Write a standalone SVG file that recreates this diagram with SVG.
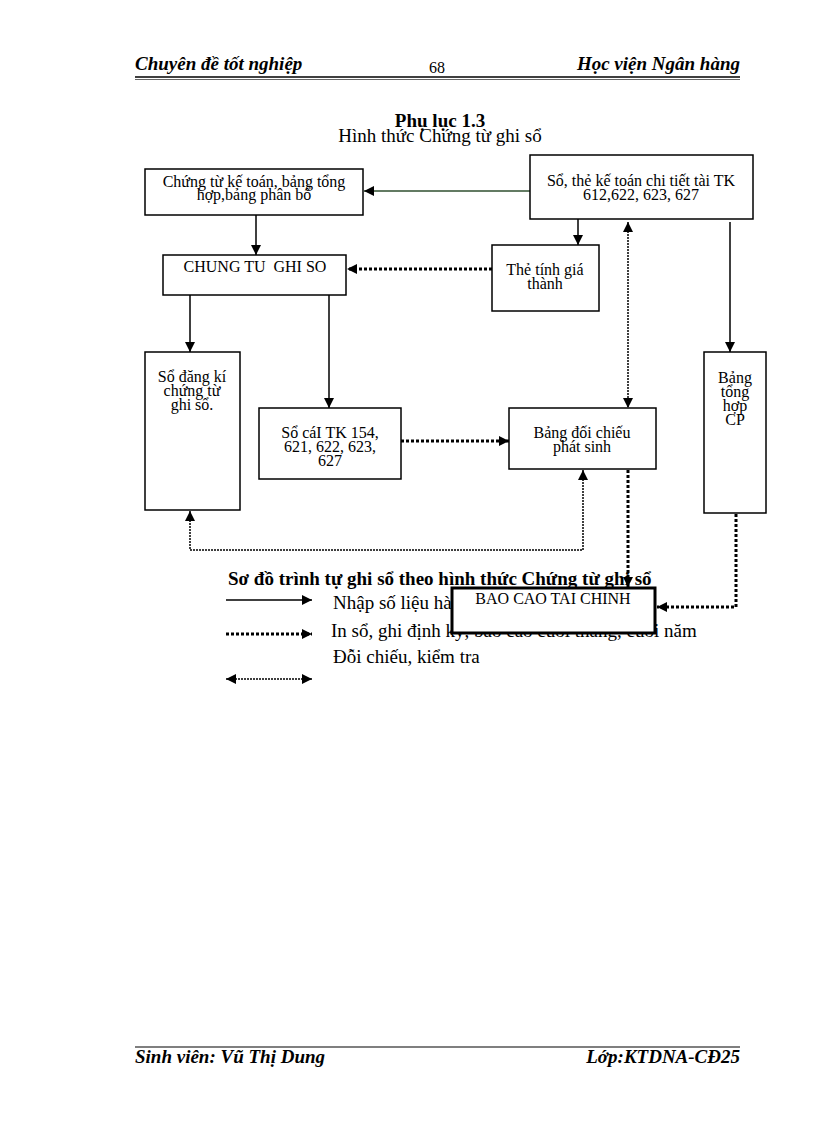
<svg xmlns="http://www.w3.org/2000/svg" width="816" height="1123" viewBox="0 0 816 1123">
<defs>
<marker id="ah" viewBox="0 0 10 10" refX="10" refY="5" markerWidth="10" markerHeight="10" markerUnits="userSpaceOnUse" orient="auto-start-reverse"><path d="M0,0 L10,5 L0,10 z" fill="#000"/></marker>
</defs>
<style>
text{font-family:"Liberation Serif","Times New Roman",serif;fill:#000}
.hd{font-size:19px;font-weight:bold;font-style:italic}
.t13{font-size:16px}
.t16{font-size:19px}
.box{fill:#fff;stroke:#000;stroke-width:1.5}
.solid{fill:none;stroke:#000;stroke-width:1.5}
.thick{fill:none;stroke:#000;stroke-width:3;stroke-dasharray:3 2}
.thin{fill:none;stroke:#000;stroke-width:1.5;stroke-dasharray:2 1}
</style>
<rect width="816" height="1123" fill="#fff"/>
<g id="header">
<text x="135" y="70" class="hd">Chuyên đề tốt nghiệp</text>
<text x="437" y="73" class="t13" text-anchor="middle">68</text>
<text x="740" y="70" class="hd" text-anchor="end">Học viện Ngân hàng</text>
<line x1="135" y1="77" x2="740" y2="77" stroke="#000" stroke-width="1.5"/>
<line x1="135" y1="79.5" x2="740" y2="79.5" stroke="#666" stroke-width="1"/>
</g>
<g id="title">
<text x="440" y="127" class="t16" font-weight="bold" text-anchor="middle">Phụ lục 1.3</text>
<text x="440" y="142" class="t16" text-anchor="middle">Hình thức Chứng từ ghi sổ</text>
</g>
<g id="legend">
<text x="228" y="585" class="t16" font-weight="bold">Sơ đồ trình tự ghi sổ theo hình thức Chứng từ ghi sổ</text>
<line x1="226" y1="600" x2="312" y2="600" class="solid" marker-end="url(#ah)"/>
<text x="333" y="609" class="t16">Nhập số liệu hàng ngày</text>
<line x1="226" y1="634" x2="312" y2="634" class="thick" marker-end="url(#ah)"/>
<text x="331" y="637" class="t16">In sổ, ghi định kỳ, báo cáo cuối tháng, cuối năm</text>
<text x="333" y="663" class="t16">Đỗi chiếu, kiểm tra</text>
<line x1="226" y1="679" x2="312" y2="679" class="thin" marker-start="url(#ah)" marker-end="url(#ah)"/>
</g>
<g id="connectors">
<line x1="530" y1="191" x2="364" y2="191" fill="none" stroke="#2f4f2f" stroke-width="1.5" marker-end="url(#ah)"/>
<line x1="256" y1="215" x2="256" y2="255" class="solid" marker-end="url(#ah)"/>
<line x1="578" y1="219" x2="578" y2="245" class="solid" marker-end="url(#ah)"/>
<line x1="492" y1="269" x2="347" y2="269" class="thick" marker-end="url(#ah)"/>
<line x1="628" y1="222" x2="628" y2="408" class="thin" marker-start="url(#ah)" marker-end="url(#ah)"/>
<line x1="730" y1="222" x2="730" y2="352" class="solid" marker-end="url(#ah)"/>
<line x1="190" y1="295" x2="190" y2="352" class="solid" stroke-width="2" marker-end="url(#ah)"/>
<line x1="329" y1="295" x2="329" y2="408" class="solid" marker-end="url(#ah)"/>
<line x1="401" y1="441" x2="509" y2="441" class="thick" marker-end="url(#ah)"/>
<polyline points="190,511 190,550 583,550 583,470" class="thin" marker-start="url(#ah)" marker-end="url(#ah)"/>
<line x1="628" y1="470" x2="628" y2="587" class="thick" marker-end="url(#ah)"/>
<polyline points="736,514 736,607 657,607" class="thick" marker-end="url(#ah)"/>
</g>
<g id="n-chungtu-ketoan">
<rect x="145" y="169" width="218" height="46" class="box"/>
<text x="254" y="187" class="t13" text-anchor="middle">Chứng từ kế toán, bảng tổng</text>
<text x="254" y="200" class="t13" text-anchor="middle">hợp,bảng phân bổ</text>
</g>
<g id="n-so-the">
<rect x="530" y="155" width="223" height="64" class="box"/>
<text x="641" y="186" class="t13" text-anchor="middle">Sổ, thẻ kế toán chi tiết tài TK</text>
<text x="641" y="200" class="t13" text-anchor="middle">612,622, 623, 627</text>
</g>
<g id="n-chungtu-ghiso">
<rect x="163" y="255" width="183" height="40" class="box"/>
<text x="255" y="272" class="t13" text-anchor="middle" xml:space="preserve">CHUNG TU  GHI SO</text>
</g>
<g id="n-the-tinh">
<rect x="492" y="245" width="107" height="66" class="box"/>
<text x="545" y="275" class="t13" text-anchor="middle">Thẻ tính giá</text>
<text x="545" y="289" class="t13" text-anchor="middle">thành</text>
</g>
<g id="n-so-dang-ki">
<rect x="145" y="352" width="95" height="158" class="box"/>
<text x="192" y="382" class="t13" text-anchor="middle">Sổ đăng kí</text>
<text x="192" y="396" class="t13" text-anchor="middle">chứng từ</text>
<text x="192" y="410" class="t13" text-anchor="middle">ghi sổ.</text>
</g>
<g id="n-so-cai">
<rect x="259" y="408" width="142" height="71" class="box"/>
<text x="330" y="438" class="t13" text-anchor="middle">Sổ cáI TK 154,</text>
<text x="330" y="452" class="t13" text-anchor="middle">621, 622, 623,</text>
<text x="330" y="466" class="t13" text-anchor="middle">627</text>
</g>
<g id="n-bang-doi-chieu">
<rect x="509" y="408" width="147" height="61" class="box"/>
<text x="582" y="438" class="t13" text-anchor="middle">Bảng đối chiếu</text>
<text x="582" y="452" class="t13" text-anchor="middle">phát sinh</text>
</g>
<g id="n-bang-tong-hop">
<rect x="704" y="352" width="62" height="161" class="box"/>
<text x="735" y="383" class="t13" text-anchor="middle">Bảng</text>
<text x="735" y="397" class="t13" text-anchor="middle">tổng</text>
<text x="735" y="411" class="t13" text-anchor="middle">hợp</text>
<text x="735" y="425" class="t13" text-anchor="middle">CP</text>
</g>
<g id="n-bao-cao">
<rect x="452" y="588" width="203" height="45" fill="#fff" stroke="#000" stroke-width="3"/>
<text x="553" y="604" class="t13" text-anchor="middle">BAO CAO TAI CHINH</text>
</g>
<g id="footer">
<line x1="135" y1="1047" x2="740" y2="1047" stroke="#000" stroke-width="1.2"/>
<text x="135" y="1063" class="hd">Sinh viên: Vũ Thị Dung</text>
<text x="740" y="1063" class="hd" text-anchor="end">Lớp:KTDNA-CĐ25</text>
</g>
</svg>
